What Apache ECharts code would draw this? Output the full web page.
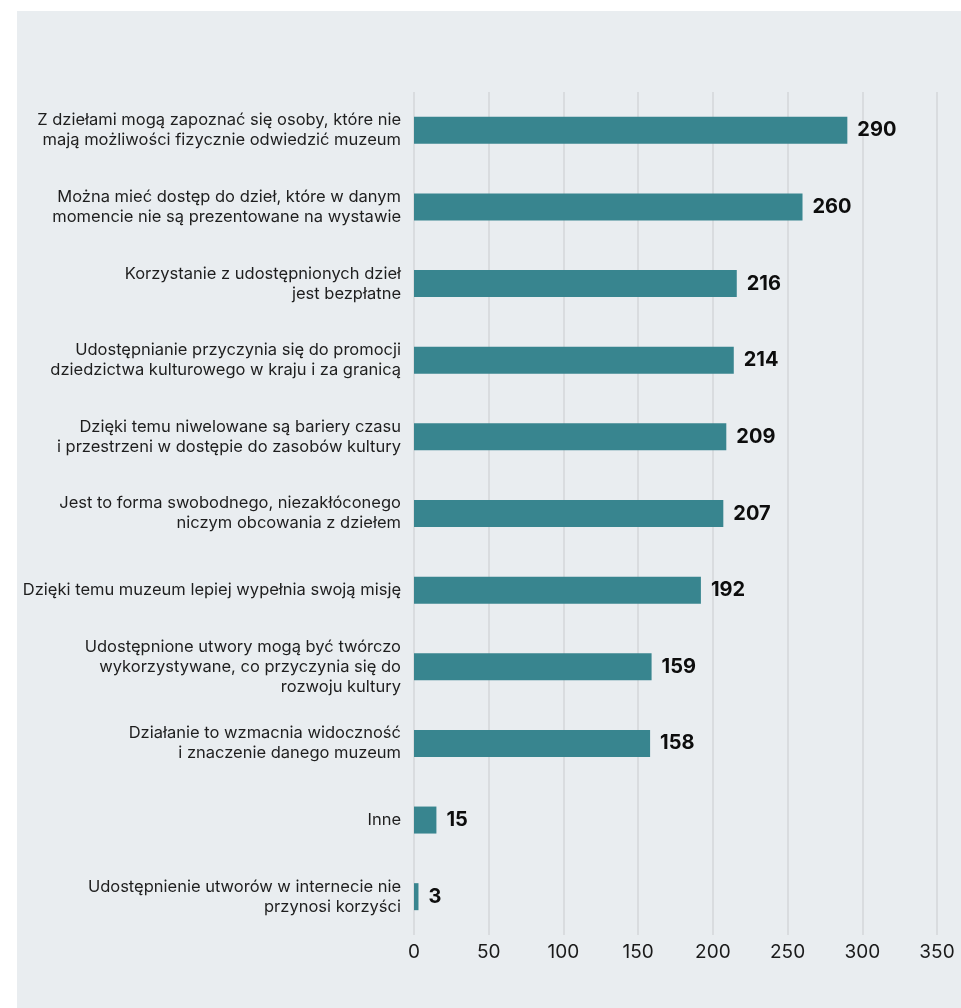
<!DOCTYPE html>
<html>
<head>
<meta charset="utf-8">
<script src="https://cdn.jsdelivr.net/npm/echarts@6/dist/echarts.min.js"></script>
<style>
  html, body { margin: 0; padding: 0; background: #ffffff; }
  #panel { position: absolute; left: 17px; top: 11px; width: 944px; height: 997px; background: #e9edf0; }
  #chart { width: 100%; height: 100%; }
</style>
</head>
<body>
<div id="panel"><div id="chart"></div></div>
<script>
// Reasons for sharing museum works online (number of responses)
const categories = [
  'Z dziełami mogą zapoznać się osoby, które nie\nmają możliwości fizycznie odwiedzić muzeum',
  'Można mieć dostęp do dzieł, które w danym\nmomencie nie są prezentowane na wystawie',
  'Korzystanie z udostępnionych dzieł\njest bezpłatne',
  'Udostępnianie przyczynia się do promocji\ndziedzictwa kulturowego w kraju i za granicą',
  'Dzięki temu niwelowane są bariery czasu\ni przestrzeni w dostępie do zasobów kultury',
  'Jest to forma swobodnego, niezakłóconego\nniczym obcowania z dziełem',
  'Dzięki temu muzeum lepiej wypełnia swoją misję',
  'Udostępnione utwory mogą być twórczo\nwykorzystywane, co przyczynia się do\nrozwoju kultury',
  'Działanie to wzmacnia widoczność\ni znaczenie danego muzeum',
  'Inne',
  'Udostępnienie utworów w internecie nie\nprzynosi korzyści'
];
const values = [290, 260, 216, 214, 209, 207, 192, 159, 158, 15, 3];
const axisMin = 0;
const axisMax = 350;
const axisStep = 50;

const chart = echarts.init(document.getElementById('chart'));
chart.setOption({
  animation: false,
  textStyle: { fontFamily: 'Inter, "Noto Sans", sans-serif' },
  grid: { left: 397, right: 24, top: 81, bottom: 73, containLabel: false },
  xAxis: {
    type: 'value',
    min: axisMin,
    max: axisMax,
    interval: axisStep,
    axisLine: { show: false },
    axisTick: { show: false },
    splitLine: { show: true, lineStyle: { color: '#d9dcdf', width: 2 } },
    axisLabel: { color: '#1a1a1a', fontSize: 19, margin: 8 }
  },
  yAxis: {
    type: 'category',
    inverse: true,
    data: categories,
    axisLine: { show: false },
    axisTick: { show: false },
    axisLabel: { color: '#1e1e1e', fontSize: 16.5, lineHeight: 20, margin: 13, align: 'right' }
  },
  series: [{
    type: 'bar',
    data: values,
    barWidth: 27,
    itemStyle: { color: '#38858f' },
    label: {
      show: true,
      position: 'right',
      distance: 10,
      color: '#0d0d0d',
      fontSize: 20,
      fontWeight: 'bold'
    }
  }]
});
</script>
</body>
</html>
